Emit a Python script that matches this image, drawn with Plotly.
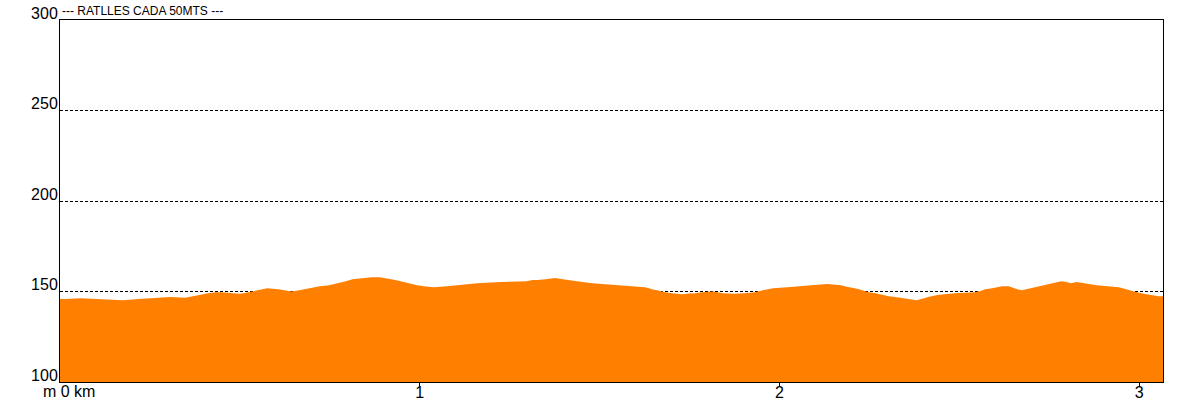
import plotly.graph_objects as go

# Elevation profile (distance in km, altitude in m)
distance_km = [
    0.000, 0.016, 0.058, 0.113, 0.174, 0.219, 0.251, 0.307, 0.348, 0.367,
    0.387, 0.408, 0.432, 0.449, 0.477, 0.500, 0.517, 0.533, 0.548, 0.576,
    0.607, 0.622, 0.644, 0.665, 0.678, 0.694, 0.722, 0.748, 0.764, 0.780,
    0.792, 0.813, 0.841, 0.866, 0.888, 0.909, 0.921, 0.932, 0.944, 0.956,
    0.967, 0.978, 0.993, 1.011, 1.039, 1.076, 1.108, 1.133, 1.159, 1.226,
    1.296, 1.314, 1.327, 1.350, 1.376, 1.398, 1.413, 1.429, 1.452, 1.480,
    1.512, 1.546, 1.591, 1.626, 1.637, 1.648, 1.663, 1.682, 1.702, 1.730,
    1.753, 1.761, 1.784, 1.815, 1.843, 1.872, 1.902, 1.932, 1.954, 1.967,
    1.982, 2.021, 2.065, 2.089, 2.133, 2.171, 2.187, 2.198, 2.209, 2.221,
    2.232, 2.248, 2.267, 2.279, 2.291, 2.304, 2.321, 2.337, 2.359, 2.381,
    2.390, 2.402, 2.413, 2.424, 2.439, 2.487, 2.543, 2.561, 2.572, 2.591,
    2.619, 2.637, 2.650, 2.661, 2.674, 2.687, 2.702, 2.715, 2.732, 2.750,
    2.767, 2.783, 2.798, 2.810, 2.826, 2.844, 2.863, 2.882, 2.912, 2.943,
    2.954, 2.968, 2.986, 3.005, 3.021, 3.035, 3.054, 3.066,
]
altitude_m = [
    145.8, 145.8, 146.3, 145.9, 145.2, 145.8, 146.3, 146.9, 146.5, 147.4,
    148.0, 148.9, 149.6, 149.6, 148.9, 148.7, 149.3, 150.0, 150.7, 151.8,
    151.3, 150.6, 150.0, 150.7, 151.3, 151.8, 152.9, 153.5, 154.2, 154.8,
    155.5, 156.8, 157.4, 157.9, 157.9, 157.4, 156.8, 156.3, 155.7, 155.2,
    154.6, 154.1, 153.5, 152.9, 152.4, 152.9, 153.5, 154.1, 154.6, 155.2,
    155.7, 156.3, 156.3, 156.8, 157.4, 156.8, 156.3, 155.7, 155.2, 154.6,
    154.1, 153.5, 152.9, 152.4, 151.8, 151.1, 150.6, 149.6, 149.1, 148.5,
    149.1, 148.9, 149.6, 150.0, 149.1, 148.7, 149.1, 149.6, 150.7, 151.3,
    151.8, 152.4, 152.9, 153.5, 154.1, 153.5, 152.6, 152.4, 151.8, 151.3,
    150.7, 149.6, 149.1, 148.5, 148.0, 147.4, 146.9, 146.3, 145.8, 145.2,
    145.8, 146.3, 146.9, 147.4, 148.0, 149.1, 149.6, 150.4, 151.3, 151.8,
    152.9, 152.9, 151.8, 151.3, 150.7, 151.3, 151.8, 152.4, 153.5, 154.1,
    155.2, 155.7, 155.2, 154.6, 155.2, 154.6, 154.1, 153.5, 152.9, 152.4,
    151.8, 150.9, 150.0, 149.1, 148.5, 148.0, 147.4, 147.4,
]

y_ticks = [100, 150, 200, 250, 300]
x_ticks = [1, 2, 3]
x_ticklabels = ["1", "2", "3"]

TITLE = "--- RATLLES CADA 50MTS ---"
FONT = "Arial, Liberation Sans, sans-serif"

fig = go.Figure()
fig.add_trace(go.Scatter(
    x=distance_km, y=altitude_m,
    mode="lines",
    fill="tozeroy",
    fillcolor="#FF8000",
    line=dict(color="#FF8000", width=0),
    hoverinfo="x+y",
    showlegend=False,
))

fig.update_layout(
    width=1192, height=402,
    margin=dict(l=60, r=29, t=20, b=20),
    paper_bgcolor="white",
    plot_bgcolor="white",
    font=dict(family=FONT, size=16, color="black"),
    showlegend=False,
    annotations=[
        dict(text=TITLE, xref="paper", yref="paper", x=0, y=1,
             xanchor="left", yanchor="bottom", showarrow=False,
             font=dict(size=12, color="black"), xshift=0, yshift=0),
        dict(text="m 0 km", xref="paper", yref="paper", x=0, y=0,
             xanchor="left", yanchor="top", showarrow=False,
             font=dict(size=16, color="black"), xshift=-19, yshift=1),
    ],
)

fig.update_xaxes(
    range=[0, 3.066], automargin=False,
    tickvals=x_ticks, ticktext=x_ticklabels,
    ticks="outside", ticklen=3, tickcolor="black",
    ticklabelstandoff=-7,
    showgrid=False, zeroline=False,
    showline=True, linecolor="black", linewidth=1, mirror=True,
)
fig.update_yaxes(
    range=[100, 300], automargin=False,
    tickvals=y_ticks,
    ticks="", ticklabelshift=-7, ticklabelstandoff=-2,
    showgrid=True, gridcolor="black", gridwidth=1, griddash="3px,2px",
    zeroline=False,
    showline=True, linecolor="black", linewidth=1, mirror=True,
)

# page body has a default 8px margin; drop it so the figure fills the window
fig.write_html(
    "out.html",
    config={"displayModeBar": False},
    post_script="document.body.style.margin='0';",
)
